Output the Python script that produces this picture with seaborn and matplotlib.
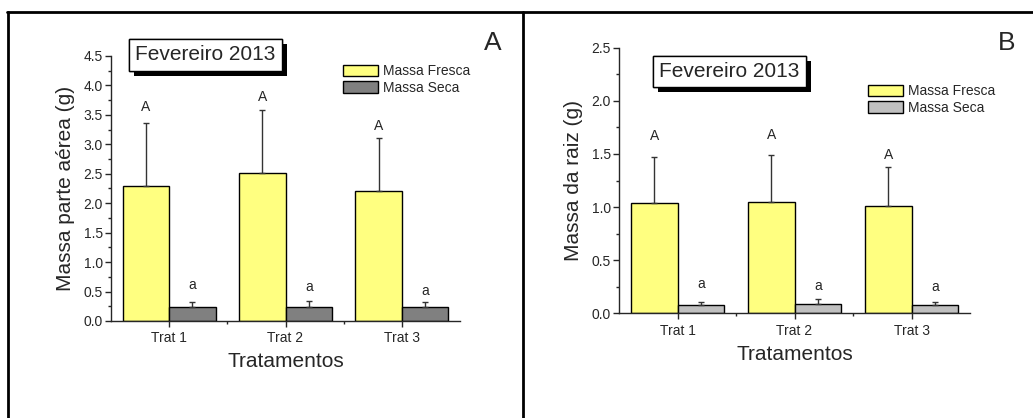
import numpy as np
import pandas as pd
import matplotlib
matplotlib.use("Agg")
import matplotlib.pyplot as plt
import matplotlib.patheffects as pe
from matplotlib.lines import Line2D
from matplotlib.patches import Patch
from matplotlib.ticker import MultipleLocator, FixedLocator
import seaborn as sns

# dados
tratamentos = ["Trat 1", "Trat 2", "Trat 3"]
series = ["Massa Fresca", "Massa Seca"]

# A - parte aérea
aerea_fresca = [2.29, 2.51, 2.21]
aerea_fresca_sd = [1.07, 1.07, 0.89]
aerea_seca = [0.23, 0.24, 0.23]
aerea_seca_sd = [0.09, 0.10, 0.09]
aerea_letras_fresca = ["A", "A", "A"]
aerea_letras_seca = ["a", "a", "a"]
aerea_letra_y_fresca = [3.64, 3.80, 3.31]
aerea_letra_y_seca = [0.61, 0.57, 0.51]

# B - raiz
raiz_fresca = [1.04, 1.05, 1.01]
raiz_fresca_sd = [0.43, 0.44, 0.37]
raiz_seca = [0.075, 0.088, 0.081]
raiz_seca_sd = [0.035, 0.042, 0.029]
raiz_letras_fresca = ["A", "A", "A"]
raiz_letras_seca = ["a", "a", "a"]
raiz_letra_y_fresca = [1.67, 1.68, 1.49]
raiz_letra_y_seca = [0.28, 0.26, 0.25]

sns.set_style("ticks")
plt.rcParams["font.family"] = ["Liberation Sans", "DejaVu Sans"]
plt.rcParams["axes.linewidth"] = 1.0

W, H = 1033, 418
fig = plt.figure(figsize=(W / 100, H / 100), dpi=100)


def fx(px):
    return px / W


def fy(py):
    return 1 - py / H


def painel(rect, fresca, fresca_sd, seca, seca_sd, letras, letras_y,
           cor_seca, ymax, ylabel, titulo_xy, legenda_xy, letra_painel, letra_xy):
    ax = fig.add_axes(rect)
    df = pd.DataFrame({
        "trat": tratamentos * 2,
        "valor": fresca + seca,
        "tipo": [series[0]] * 3 + [series[1]] * 3,
    })
    cores = {series[0]: "#FFFF80", series[1]: cor_seca}
    sns.barplot(data=df, x="trat", y="valor", hue="tipo", palette=cores,
                edgecolor="black", linewidth=1, width=0.8, errorbar=None,
                saturation=1, legend=False, ax=ax)

    # barras de erro (só para cima) e letras
    for cont, sd, lts, lys in zip(ax.containers, [fresca_sd, seca_sd], letras, letras_y):
        xs = [b.get_x() + b.get_width() / 2 for b in cont]
        hs = [b.get_height() for b in cont]
        ax.errorbar(xs, hs, yerr=[np.zeros(len(sd)), sd], fmt="none",
                    ecolor="#333333", elinewidth=1, capsize=2.5, capthick=1)
        for x, t, y in zip(xs, lts, lys):
            ax.text(x, y, t, ha="center", va="center", fontsize=10)

    ax.set_xlim(-0.5, 2.5)
    ax.set_ylim(0, ymax)
    ax.yaxis.set_major_locator(MultipleLocator(0.5))
    ax.yaxis.set_minor_locator(MultipleLocator(0.25))
    ax.xaxis.set_minor_locator(FixedLocator([0.5, 1.5]))
    ax.yaxis.set_major_formatter(matplotlib.ticker.FormatStrFormatter("%.1f"))
    ax.tick_params(which="major", length=4, width=1, labelsize=10, pad=2)
    ax.tick_params(axis="x", which="major", pad=3.5)
    ax.tick_params(which="minor", length=2.5, width=1)
    ax.set_xlabel("Tratamentos", fontsize=15, labelpad=5)
    ax.set_ylabel(ylabel, fontsize=15, labelpad=6)
    sns.despine(ax=ax)

    # legenda
    handles = [Patch(facecolor=cores[s], edgecolor="black", linewidth=1, label=s) for s in series]
    fig.legend(handles=handles, loc="upper left", bbox_to_anchor=(fx(legenda_xy[0]), fy(legenda_xy[1])),
               frameon=False, fontsize=10, handlelength=2.5, handleheight=0.85,
               handletextpad=0.35, labelspacing=0.2, borderpad=0, borderaxespad=0)

    # caixa do título com sombra
    t = fig.text(fx(titulo_xy[0]), fy(titulo_xy[1]), "Fevereiro 2013", ha="center", va="center",
                 fontsize=15, bbox=dict(boxstyle="square,pad=0.3", fc="white", ec="black", lw=1))
    t.get_bbox_patch().set_path_effects([
        pe.withSimplePatchShadow(offset=(3.5, -3.5), shadow_rgbFace="black", alpha=1),
        pe.Normal(),
    ])

    fig.text(fx(letra_xy[0]), fy(letra_xy[1]), letra_painel, ha="center", va="center", fontsize=19)
    return ax


painel([fx(111), fy(321), fx(460 - 111), (321 - 56) / H],
       aerea_fresca, aerea_fresca_sd, aerea_seca, aerea_seca_sd,
       [aerea_letras_fresca, aerea_letras_seca], [aerea_letra_y_fresca, aerea_letra_y_seca],
       "#808080", 4.5, "Massa parte aérea (g)", (205.5, 55), (343, 64), "A", (493, 43))

painel([fx(619), fy(313.3), fx(970 - 619), (313.3 - 47.7) / H],
       raiz_fresca, raiz_fresca_sd, raiz_seca, raiz_seca_sd,
       [raiz_letras_fresca, raiz_letras_seca], [raiz_letra_y_fresca, raiz_letra_y_seca],
       "#C0C0C0", 2.5, "Massa da raiz (g)", (729.5, 71.5), (868, 84), "B", (1007, 43))

# moldura
for (x0, y0, x1, y1) in [(7, 12, W, 12), (7.5, 12, 7.5, H), (523, 12, 523, H)]:
    fig.add_artist(Line2D([fx(x0), fx(x1)], [fy(y0), fy(y1)], color="black", lw=2, transform=fig.transFigure))

fig.savefig("out.png", dpi=100)
